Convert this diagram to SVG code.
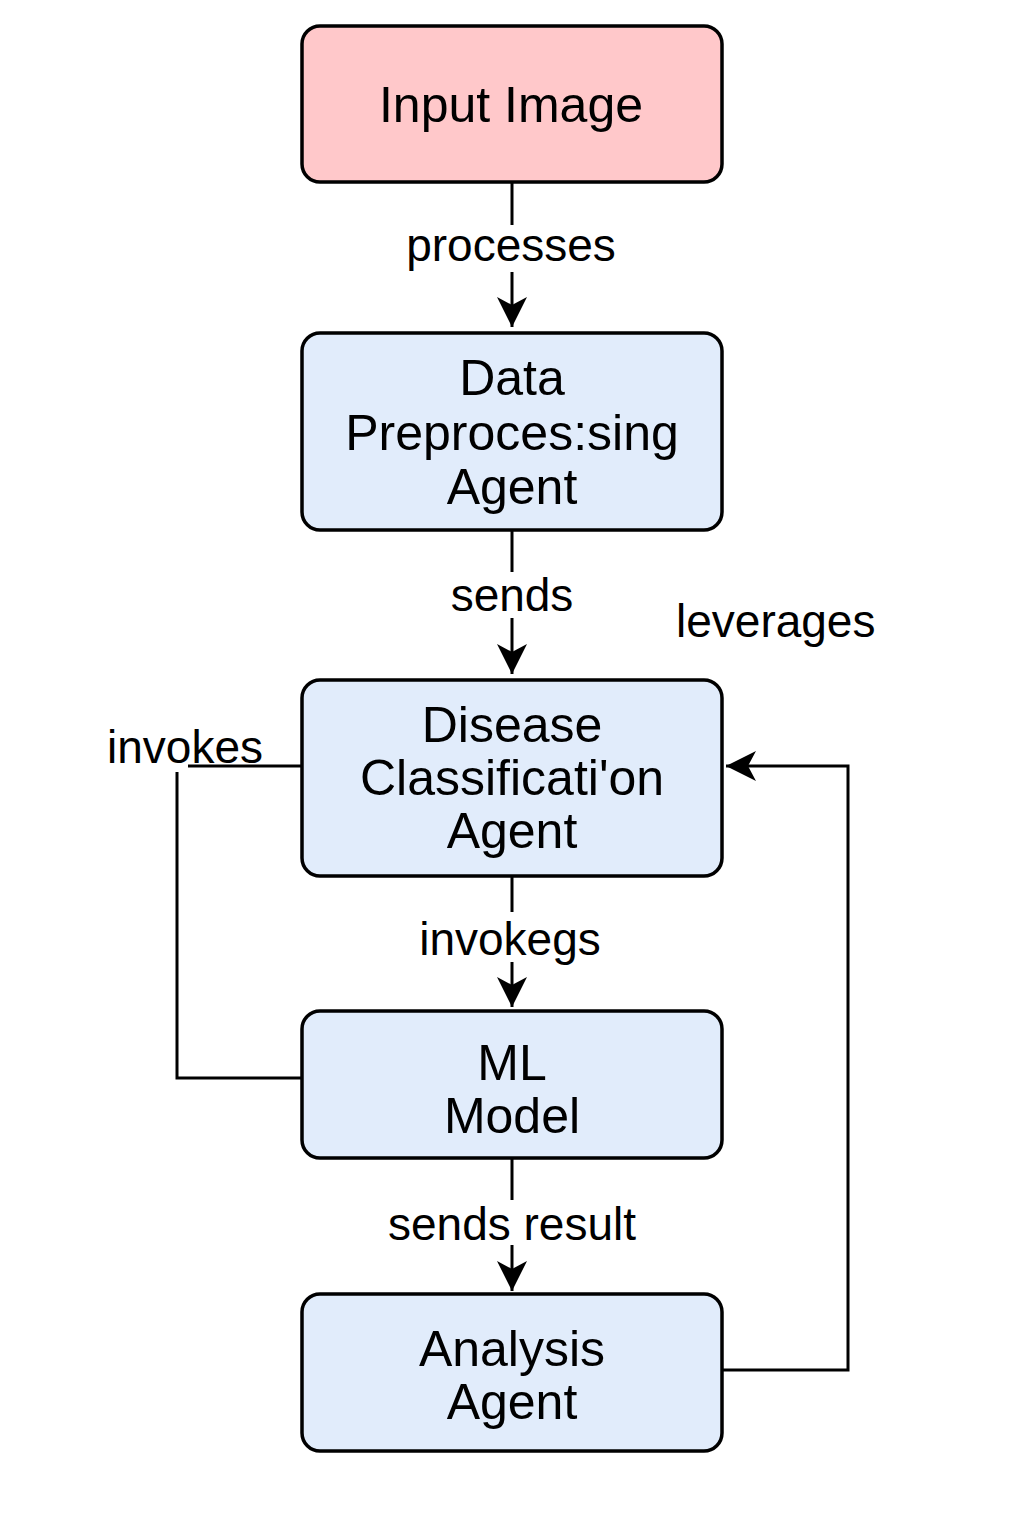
<svg xmlns="http://www.w3.org/2000/svg" width="1024" height="1536" viewBox="0 0 1024 1536">
<style>
.box{stroke:#000;stroke-width:3.5}
.in{fill:#FFC8CA}
.ag{fill:#E1ECFB}
.t{font-family:"Liberation Sans",Arial,sans-serif;font-size:50px;fill:#000;text-anchor:middle}
.l{font-family:"Liberation Sans",Arial,sans-serif;font-size:46px;fill:#000}
.c{fill:none;stroke:#000;stroke-width:3}
</style>
<defs>
<marker id="ah" markerWidth="32" markerHeight="32" refX="30" refY="15" orient="auto" markerUnits="userSpaceOnUse">
<path d="M0,0 L30,15 L0,30 L8,15 Z" fill="#000"/>
</marker>
</defs>
<rect width="1024" height="1536" fill="#fff"/>
<g id="connectors">
<path class="c" d="M512,182 V225"/>
<path class="c" d="M512,272 V327" marker-end="url(#ah)"/>
<text class="l" x="511" y="261" text-anchor="middle">processes</text>
<path class="c" d="M512,530 V572"/>
<path class="c" d="M512,618 V674" marker-end="url(#ah)"/>
<text class="l" x="512" y="611" text-anchor="middle">sends</text>
<path class="c" d="M512,876 V912"/>
<path class="c" d="M512,962 V1007" marker-end="url(#ah)"/>
<text class="l" x="510" y="955" text-anchor="middle">invokegs</text>
<path class="c" d="M512,1158 V1200"/>
<path class="c" d="M512,1245 V1291" marker-end="url(#ah)"/>
<text class="l" x="512" y="1240" text-anchor="middle">sends result</text>
<path class="c" d="M302,766 H188"/>
<path class="c" d="M177,772 V1078 H302"/>
<text class="l" x="107" y="763">invokes</text>
<path class="c" d="M722,1370 H848 V766 H726" marker-end="url(#ah)"/>
<text class="l" x="676" y="637">leverages</text>
</g>
<g id="input">
<rect class="box in" x="302" y="26" width="420" height="156" rx="18"/>
<text class="t" x="511" y="122">Input Image</text>
</g>
<g id="preprocess">
<rect class="box ag" x="302" y="333" width="420" height="197" rx="18"/>
<text class="t" x="512" y="395">Data</text>
<text class="t" x="512" y="450">Preproces:sing</text>
<text class="t" x="512" y="504">Agent</text>
</g>
<g id="classify">
<rect class="box ag" x="302" y="680" width="420" height="196" rx="18"/>
<text class="t" x="512" y="742">Disease</text>
<text class="t" x="512" y="795">Classificati'on</text>
<text class="t" x="512" y="848">Agent</text>
</g>
<g id="model">
<rect class="box ag" x="302" y="1011" width="420" height="147" rx="18"/>
<text class="t" x="512" y="1080">ML</text>
<text class="t" x="512" y="1133">Model</text>
</g>
<g id="analysis">
<rect class="box ag" x="302" y="1294" width="420" height="157" rx="18"/>
<text class="t" x="512" y="1366">Analysis</text>
<text class="t" x="512" y="1419">Agent</text>
</g>
</svg>
